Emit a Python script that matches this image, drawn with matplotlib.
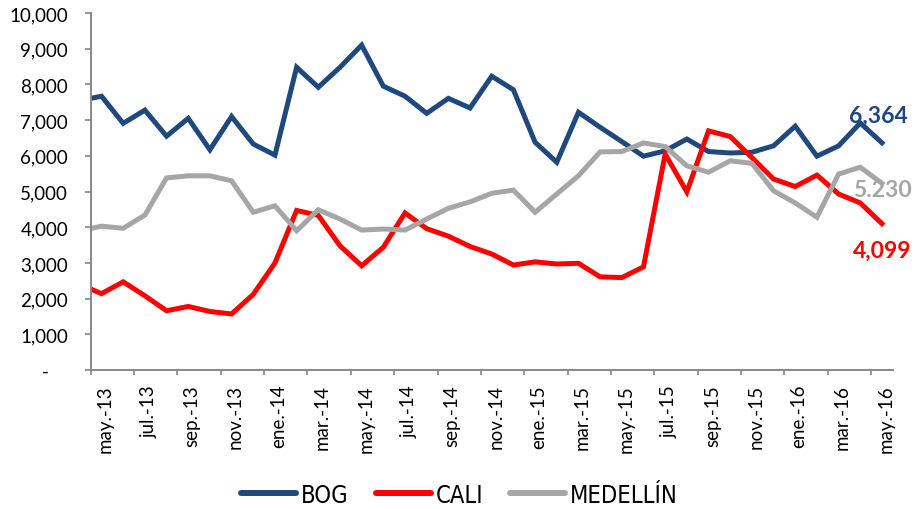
import matplotlib
matplotlib.use("Agg")
import matplotlib.pyplot as plt
import matplotlib.transforms as mtransforms
from matplotlib.font_manager import FontProperties
from matplotlib.ticker import FuncFormatter

# monthly values, apr-13 (clipped at the axis) through may-16
months = ["abr.-13", "may.-13", "jun.-13", "jul.-13", "ago.-13", "sep.-13", "oct.-13",
          "nov.-13", "dic.-13", "ene.-14", "feb.-14", "mar.-14", "abr.-14", "may.-14",
          "jun.-14", "jul.-14", "ago.-14", "sep.-14", "oct.-14", "nov.-14", "dic.-14",
          "ene.-15", "feb.-15", "mar.-15", "abr.-15", "may.-15", "jun.-15", "jul.-15",
          "ago.-15", "sep.-15", "oct.-15", "nov.-15", "dic.-15", "ene.-16", "feb.-16",
          "mar.-16", "abr.-16", "may.-16"]

bog = [7550, 7670, 6910, 7280, 6550, 7050, 6170, 7100, 6330, 6020, 8480, 7920, 8480,
       9100, 7950, 7670, 7190, 7610, 7340, 8230, 7850, 6380, 5820, 7220, 6800, 6400,
       5990, 6140, 6470, 6120, 6080, 6100, 6280, 6830, 5990, 6280, 6920, 6364]

cali = [2400, 2140, 2470, 2080, 1660, 1780, 1640, 1570, 2120, 3000, 4470, 4330, 3480,
        2920, 3440, 4400, 3960, 3750, 3460, 3250, 2940, 3030, 2970, 2990, 2610, 2590,
        2890, 6050, 4990, 6700, 6540, 5950, 5350, 5140, 5460, 4930, 4680, 4099]

medellin = [3900, 4030, 3970, 4340, 5380, 5440, 5440, 5300, 4420, 4600, 3900, 4490, 4230,
            3920, 3950, 3920, 4230, 4530, 4710, 4950, 5040, 4420, 4930, 5440, 6110, 6120,
            6360, 6260, 5720, 5540, 5860, 5790, 5020, 4680, 4280, 5490, 5680, 5230]

end_labels = ["6,364", "4,099", "5.230"]

BLUE = "#1F497D"
RED = "#FF0000"
GRAY = "#A6A6A6"
AXIS = "#888888"

x = list(range(-1, len(months) - 1))

fig = plt.figure(figsize=(9.14, 5.10), dpi=100)
ax = fig.add_axes([0.0992, 0.2725, 0.8776, 0.70])

lw = 3.6
ax.plot(x, bog, color=BLUE, lw=lw, label="BOG", solid_joinstyle="miter")
ax.plot(x, cali, color=RED, lw=lw, label="CALI", solid_joinstyle="miter")
ax.plot(x, medellin, color=GRAY, lw=lw, label="MEDELLÍN", solid_joinstyle="miter")

ax.set_xlim(-0.5, 36.5)
ax.set_ylim(0, 10000)

for side in ("top", "right"):
    ax.spines[side].set_visible(False)
for side in ("left", "bottom"):
    ax.spines[side].set_color(AXIS)
    ax.spines[side].set_linewidth(1.4)

tick_font = "Lato"

# y axis
ax.set_yticks(range(0, 10001, 1000))
ax.yaxis.set_major_formatter(FuncFormatter(lambda v, p: "-    " if v == 0 else f"{v:,.0f}"))
ax.tick_params(axis="y", direction="out", length=4.3, width=1.2, color=AXIS, pad=12,
               labelsize=13.5)
for lab in ax.get_yticklabels():
    lab.set_fontfamily(tick_font)

# x axis: tick marks between months, labels every two months
boundaries = [i - 0.5 for i in range(0, 37, 2)]
ax.set_xticks(boundaries)
ax.set_xticklabels([])
ax.tick_params(axis="x", which="major", direction="out", length=3.6, width=1.2, color=AXIS)
label_pos = list(range(0, 37, 2))
ax.set_xticks(label_pos, minor=True)
ax.set_xticklabels([months[i + 1] for i in label_pos], minor=True, rotation=90,
                   fontsize=13.5, fontfamily=tick_font, va="top", ha="center")
ax.tick_params(axis="x", which="minor", length=0, pad=10)
offset = mtransforms.ScaledTranslation(4 / 100, 0, fig.dpi_scale_trans)
for lab in ax.get_xticklabels(minor=True):
    lab.set_transform(lab.get_transform() + offset)

# end-of-series labels
last = len(months) - 2
ax.annotate(end_labels[0], (last, bog[-1]), xytext=(-4, 28), textcoords="offset pixels",
            ha="center", va="center", color=BLUE, fontsize=16.5, fontweight="bold",
            fontfamily=tick_font, annotation_clip=False)
ax.annotate(end_labels[2], (last, medellin[-1]), xytext=(0, -6), textcoords="offset pixels",
            ha="center", va="center", color=GRAY, fontsize=16.5, fontweight="bold",
            fontfamily=tick_font, annotation_clip=False)
ax.annotate(end_labels[1], (last, cali[-1]), xytext=(0, -27), textcoords="offset pixels",
            ha="center", va="center", color=RED, fontsize=16.5, fontweight="bold",
            fontfamily=tick_font, annotation_clip=False)

leg_font = FontProperties(family="DejaVu Sans", stretch="condensed", size=17)
leg = fig.legend(loc="center", bbox_to_anchor=(0.503, 0.028), ncol=3, frameon=False,
                 prop=leg_font, handlelength=2.33, handletextpad=0.21,
                 columnspacing=1.14, borderaxespad=0)
for h in leg.get_lines():
    h.set_linewidth(4.3)
    h.set_solid_capstyle("round")

fig.savefig("out.png", dpi=100)
